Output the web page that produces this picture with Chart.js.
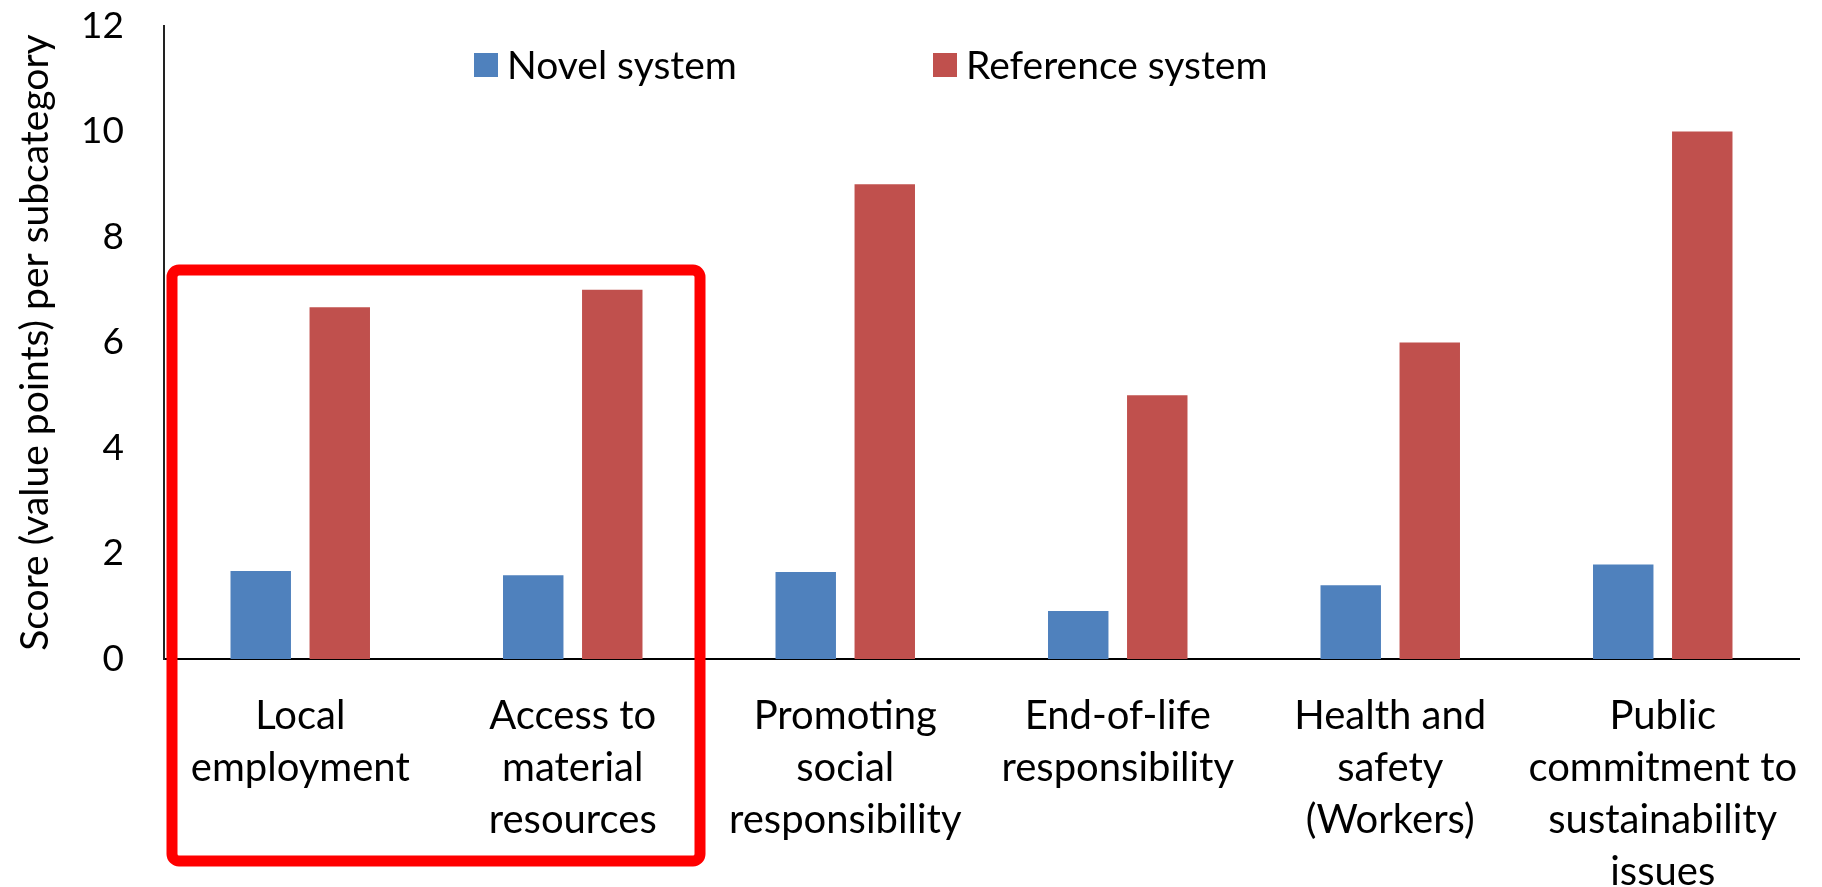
<!DOCTYPE html>
<html>
<head>
<meta charset="utf-8">
<script src="https://cdn.jsdelivr.net/npm/chart.js@4"></script>
<style>
  html, body { margin: 0; padding: 0; background: #ffffff; }
  #wrap { width: 1822px; height: 887px; }
</style>
</head>
<body>
<div id="wrap"><canvas id="c" width="1822" height="887"></canvas></div>
<script>
const categories = [
  ["Local", "employment"],
  ["Access to", "material", "resources"],
  ["Promoting", "social", "responsibility"],
  ["End-of-life", "responsibility"],
  ["Health and", "safety", "(Workers)"],
  ["Public", "commitment to", "sustainability", "issues"]
];
const seriesNames = ["Novel system", "Reference system"];
const novelSystem = [1.67, 1.59, 1.65, 0.91, 1.40, 1.79];
const referenceSystem = [6.67, 7.0, 9.0, 5.0, 6.0, 10.0];
const yTicks = [0, 2, 4, 6, 8, 10, 12];
const yTitle = "Score (value points) per subcategory";

const FONT = "Lato, 'Open Sans', sans-serif";
const BLUE = "#4F81BD";
const RED = "#C0504D";

const floatingLegend = {
  id: "floatingLegend",
  afterDraw(chart, args, opts) {
    const ctx = chart.ctx;
    ctx.save();
    ctx.font = opts.fontSize + "px " + FONT;
    ctx.textBaseline = "middle";
    ctx.textAlign = "left";
    chart.data.datasets.forEach((ds, i) => {
      const x = opts.starts[i];
      const y = opts.y;
      ctx.fillStyle = ds.backgroundColor;
      ctx.fillRect(x, y - opts.box / 2, opts.box, opts.box);
      ctx.fillStyle = "#000000";
      ctx.fillText(ds.label, x + opts.box + opts.gap, y + 1);
    });
    ctx.restore();
  }
};

const highlightBox = {
  id: "highlightBox",
  afterDraw(chart, args, opts) {
    const ctx = chart.ctx;
    const x0 = opts.left, y0 = opts.top, x1 = opts.right, y1 = opts.bottom, r = opts.radius;
    ctx.save();
    ctx.strokeStyle = opts.color;
    ctx.lineWidth = opts.width;
    ctx.lineJoin = "round";
    ctx.beginPath();
    ctx.moveTo(x0 + r, y0);
    ctx.lineTo(x1 - r, y0);
    ctx.arcTo(x1, y0, x1, y0 + r, r);
    ctx.lineTo(x1, y1 - r);
    ctx.arcTo(x1, y1, x1 - r, y1, r);
    ctx.lineTo(x0 + r, y1);
    ctx.arcTo(x0, y1, x0, y1 - r, r);
    ctx.lineTo(x0, y0 + r);
    ctx.arcTo(x0, y0, x0 + r, y0, r);
    ctx.closePath();
    ctx.stroke();
    ctx.restore();
  }
};

new Chart(document.getElementById("c"), {
  type: "bar",
  data: {
    labels: categories,
    datasets: [
      { label: seriesNames[0], data: novelSystem, backgroundColor: BLUE, borderWidth: 0 },
      { label: seriesNames[1], data: referenceSystem, backgroundColor: RED, borderWidth: 0 }
    ]
  },
  plugins: [floatingLegend, highlightBox],
  options: {
    responsive: false,
    animation: false,
    devicePixelRatio: 1,
    layout: { padding: { top: 26, right: 23, bottom: 0, left: 0 } },
    datasets: { bar: { categoryPercentage: 0.58, barPercentage: 0.765 } },
    plugins: {
      legend: { display: false },
      tooltip: { enabled: false },
      floatingLegend: { starts: [474, 933], y: 65, box: 24, gap: 9, fontSize: 39 },
      highlightBox: { left: 172, top: 270, right: 700, bottom: 861, width: 11, radius: 7, color: "#FF0000" }
    },
    scales: {
      x: {
        grid: { display: false, drawTicks: false },
        border: { display: true, color: "#000000", width: 2 },
        ticks: {
          color: "#000000",
          font: { family: FONT, size: 40, lineHeight: 1.3 },
          padding: 31,
          maxRotation: 0,
          autoSkip: false
        },
        afterFit(scale) { scale.height = 228; scale.paddingLeft = 0; scale.paddingRight = 0; }
      },
      y: {
        min: 0,
        max: 12,
        afterBuildTicks(scale) { scale.ticks = yTicks.map(v => ({ value: v })); },
        grid: { display: false, drawTicks: false },
        border: { display: true, color: "#222222", width: 2 },
        ticks: {
          color: "#000000",
          font: { family: FONT, size: 37 },
          padding: 40
        },
        title: {
          display: true,
          text: yTitle,
          color: "#000000",
          font: { family: FONT, size: 39 },
          padding: { top: 12, bottom: 0 }
        },
        afterFit(scale) { scale.width = 164; scale.paddingTop = 0; scale.paddingBottom = 0; }
      }
    }
  }
});
</script>
</body>
</html>
